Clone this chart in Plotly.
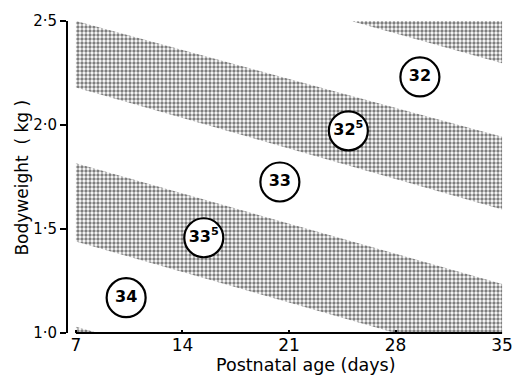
import plotly.graph_objects as go

# ---- data ----
x_ticks = [7, 14, 21, 28, 35]
x_ticklabels = ["7", "14", "21", "28", "35"]
y_ticks = [1.0, 1.5, 2.0, 2.5]
y_ticklabels = ["1·0", "1·5", "2·0", "2·5"]

band_days = [7, 35]
# shaded bands: upper edge at (7, 35) days, lower edge at (7, 35) days
band_a_top = [3.23, 2.66]
band_a_bot = [2.87, 2.297]
band_b_top = [2.50, 1.943]
band_b_bot = [2.18, 1.594]
band_c_top = [1.816, 1.236]
band_c_bot = [1.44, 0.853]
band_d_top = [1.03, 0.45]
band_d_bot = [0.60, 0.00]

label_days = [29.6, 24.9, 20.4, 15.4, 10.3]
label_weights = [2.231, 1.972, 1.726, 1.458, 1.17]
label_texts = ["32", "32<sup>5</sup>", "33", "33<sup>5</sup>", "34"]

fig = go.Figure()

for top, bot in [(band_a_top, band_a_bot), (band_b_top, band_b_bot),
                 (band_c_top, band_c_bot), (band_d_top, band_d_bot)]:
    xs = band_days + band_days[::-1]
    ys = top + bot[::-1]
    fig.add_trace(go.Scatter(
        x=xs, y=ys, mode="lines", fill="toself",
        line=dict(width=0, color="rgba(0,0,0,0)"),
        fillcolor="white",
        fillpattern=dict(shape=".", fgcolor="black", bgcolor="white",
                         size=4, solidity=0.55),
        hoverinfo="skip", showlegend=False))

fig.add_trace(go.Scatter(
    x=label_days, y=label_weights, mode="markers+text",
    marker=dict(size=39, color="white", line=dict(color="black", width=2.2)),
    text=label_texts, textposition="middle center",
    textfont=dict(family="DejaVu Sans", size=16, color="black"),
    texttemplate="<b>%{text}</b>",
    hoverinfo="skip", showlegend=False, cliponaxis=False))

fig.update_layout(
    width=525, height=379,
    margin=dict(l=68, r=16, t=15, b=46),
    paper_bgcolor="white", plot_bgcolor="white",
    font=dict(family="DejaVu Sans", size=16, color="black"),
    xaxis=dict(range=[6.48, 35.06], tickvals=x_ticks, ticktext=x_ticklabels,
               showgrid=False, zeroline=False, showline=False,
               ticks="inside", ticklen=3, tickcolor="black", tickwidth=1.5,
               tickfont=dict(size=17), fixedrange=True),
    yaxis=dict(range=[1.0, 2.5], tickvals=y_ticks, ticktext=y_ticklabels,
               showgrid=False, zeroline=False, showline=True,
               linecolor="black", linewidth=2,
               ticks="outside", ticklen=6, tickcolor="black", tickwidth=2,
               tickfont=dict(size=15), fixedrange=True),
    shapes=[dict(type="line", xref="x", yref="paper", x0=7, x1=35, y0=0, y1=0,
                 line=dict(color="black", width=2))],
    annotations=[
        dict(text="Postnatal age (days)", xref="paper", yref="paper",
             x=(309 - 68) / (525 - 68 - 16), y=-(366 - 333) / (379 - 15 - 46),
             showarrow=False, font=dict(size=17.5), xanchor="center", yanchor="middle"),
        dict(text="Bodyweight  ( kg )", xref="paper", yref="paper",
             x=-(68 - 21) / (525 - 68 - 16), y=(333 - 175) / (379 - 15 - 46),
             textangle=-90, showarrow=False, font=dict(size=17),
             xanchor="center", yanchor="middle"),
    ],
)

fig.write_html("out.html", config={"displayModeBar": False},
               post_script="document.body.style.margin='0';document.body.style.overflow='hidden';")
